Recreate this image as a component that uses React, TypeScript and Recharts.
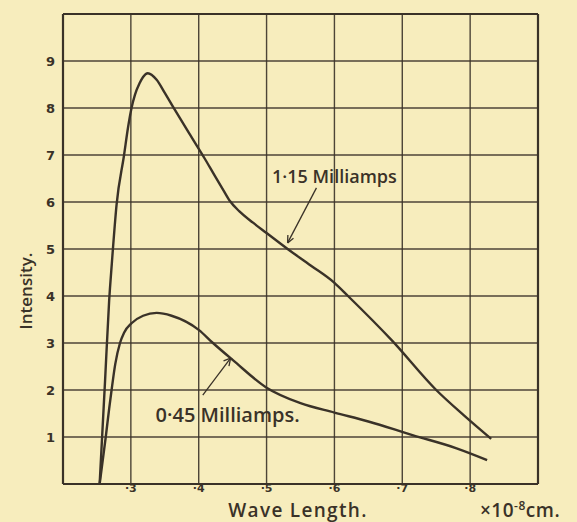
import { CartesianGrid, Label, Line, LineChart, ReferenceDot, ReferenceLine, XAxis, YAxis } from "recharts";

const INK = "#3a3228";
const PAPER = "#f7edbd";

// 1.15 milliamps curve
const highWave = [0.254, 0.262, 0.268, 0.272, 0.279, 0.29, 0.296, 0.301, 0.306, 0.313, 0.318, 0.325, 0.338, 0.35, 0.362, 0.386, 0.409, 0.424, 0.436, 0.446, 0.46, 0.48, 0.5, 0.531, 0.565, 0.6, 0.62, 0.685, 0.75, 0.79, 0.831];
const highIntensity = [0, 2.2, 3.9, 4.7, 5.95, 7.0, 7.6, 8.0, 8.28, 8.53, 8.66, 8.74, 8.6, 8.32, 8.03, 7.46, 6.92, 6.55, 6.26, 6.02, 5.8, 5.56, 5.34, 5.0, 4.65, 4.28, 4.0, 3.05, 2.0, 1.47, 0.96];

// 0.45 milliamps curve
const lowWave = [0.254, 0.263, 0.268, 0.2716, 0.277, 0.284, 0.29, 0.301, 0.318, 0.338, 0.36, 0.4, 0.421, 0.45, 0.5, 0.55, 0.6, 0.65, 0.715, 0.78, 0.825];
const lowIntensity = [0, 1.0, 1.6, 2.0, 2.55, 3.0, 3.22, 3.42, 3.58, 3.64, 3.58, 3.28, 3.0, 2.64, 2.05, 1.72, 1.52, 1.33, 1.04, 0.76, 0.51];

const xTicks = [0.2, 0.3, 0.4, 0.5, 0.6, 0.7, 0.8, 0.9];
const xTickLabels = ["", "·3", "·4", "·5", "·6", "·7", "·8", ""];
const yTicks = [0, 1, 2, 3, 4, 5, 6, 7, 8, 9, 10];
const yTickLabels = ["", "1", "2", "3", "4", "5", "6", "7", "8", "9", ""];

// annotations: label anchor, arrow tail and head, two barbs
const highNote = { text: "1·15 Milliamps", x: 0.6, y: 6.53 };
const highArrow = [{ x: 0.5735, y: 6.3 }, { x: 0.531, y: 5.13 }];
const highBarbs = [{ x: 0.5396, y: 5.23 }, { x: 0.5314, y: 5.3 }];
const lowNote = { text: "0·45 Milliamps.", x: 0.4426, y: 1.47 };
const lowArrow = [{ x: 0.406, y: 1.89 }, { x: 0.447, y: 2.68 }];
const lowBarbs = [{ x: 0.4366, y: 2.62 }, { x: 0.4446, y: 2.51 }];

const highData = highWave.map((x, i) => ({ x, y: highIntensity[i] }));
const lowData = lowWave.map((x, i) => ({ x, y: lowIntensity[i] }));

const labelFont = "'Open Sans', 'DejaVu Sans', sans-serif";
const tickFont = "'DejaVu Sans', sans-serif";

function XTitle({ viewBox }: any) {
  const { x, y, width } = viewBox;
  return (
    <g fill={INK} fontFamily={labelFont} fontWeight={600}>
      <text x={x + 235} y={y + 33} textAnchor="middle" fontSize={19} letterSpacing={1.3}>Wave Length.</text>
      <text x={x + width - 58} y={y + 33} fontSize={19} letterSpacing={0.5}>
        ×10<tspan dy={-7} fontSize={12}>-8</tspan><tspan dy={7}>cm.</tspan>
      </text>
    </g>
  );
}

function YTitle({ viewBox }: any) {
  const { x } = viewBox;
  const cx = x + 27;
  const cy = 291;
  return (
    <text x={cx} y={cy} transform={`rotate(-90 ${cx} ${cy})`} textAnchor="middle" dominantBaseline="middle"
      fill={INK} fontFamily={labelFont} fontWeight={600} fontSize={17}>
      Intensity.
    </text>
  );
}

export default function App() {
  const arrowProps = { stroke: INK, strokeWidth: 1.3, ifOverflow: "visible" as const };
  return (
    <div style={{ position: "absolute", left: 0, top: 0, width: 577, height: 522, background: PAPER }}>
      <LineChart width={577} height={522} margin={{ top: 14, right: 39, left: 0, bottom: 0 }}>
        <CartesianGrid stroke={INK} strokeWidth={1.4} strokeOpacity={0.9} />
        <XAxis
          dataKey="x"
          type="number"
          domain={[0.2, 0.9]}
          ticks={xTicks}
          tickFormatter={(v: number) => xTickLabels[xTicks.indexOf(v)]}
          height={38}
          tickSize={0}
          tickMargin={0}
          axisLine={{ stroke: INK, strokeWidth: 2.2 }}
          tick={{ fill: INK, fontSize: 11, fontWeight: 700, fontFamily: tickFont }}
        >
          <Label content={<XTitle />} />
        </XAxis>
        <YAxis
          type="number"
          domain={[0, 10]}
          ticks={yTicks}
          tickFormatter={(v: number) => yTickLabels[yTicks.indexOf(v)]}
          width={63}
          tickSize={0}
          tickMargin={8}
          axisLine={{ stroke: INK, strokeWidth: 2.2 }}
          tick={{ fill: INK, fontSize: 13, fontWeight: 700, fontFamily: tickFont }}
        >
          <Label content={<YTitle />} />
        </YAxis>
        <ReferenceLine y={10} stroke={INK} strokeWidth={2.2} />
        <ReferenceLine x={0.9} stroke={INK} strokeWidth={2.2} />
        <Line data={highData} dataKey="y" type="monotone" stroke={INK} strokeWidth={2.4} dot={false} isAnimationActive={false} />
        <Line data={lowData} dataKey="y" type="monotone" stroke={INK} strokeWidth={2.4} dot={false} isAnimationActive={false} />
        <ReferenceLine segment={highArrow} {...arrowProps} />
        <ReferenceLine segment={[highArrow[1], highBarbs[0]]} {...arrowProps} />
        <ReferenceLine segment={[highArrow[1], highBarbs[1]]} {...arrowProps} />
        <ReferenceLine segment={lowArrow} {...arrowProps} />
        <ReferenceLine segment={[lowArrow[1], lowBarbs[0]]} {...arrowProps} />
        <ReferenceLine segment={[lowArrow[1], lowBarbs[1]]} {...arrowProps} />
        <ReferenceDot x={highNote.x} y={highNote.y} r={0} fill="none" stroke="none" ifOverflow="visible"
          label={{ value: highNote.text, position: "center", fill: INK, fontSize: 18, fontWeight: 600, fontFamily: labelFont }} />
        <ReferenceDot x={lowNote.x} y={lowNote.y} r={0} fill="none" stroke="none" ifOverflow="visible"
          label={{ value: lowNote.text, position: "center", fill: INK, fontSize: 20, fontWeight: 600, fontFamily: labelFont }} />
      </LineChart>
    </div>
  );
}
